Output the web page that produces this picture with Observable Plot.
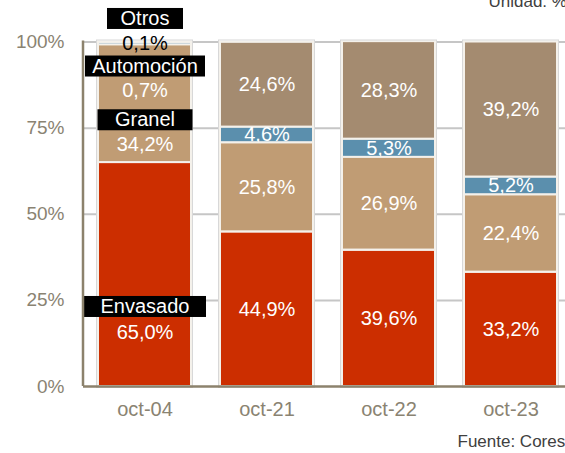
<!DOCTYPE html>
<html>
<head>
<meta charset="utf-8">
<script src="https://cdn.jsdelivr.net/npm/d3@7"></script>
<script src="https://cdn.jsdelivr.net/npm/@observablehq/plot@0.6"></script>
<style>
  html, body { margin: 0; padding: 0; background: #fff; }
  svg { display: block; }
</style>
</head>
<body>
<div id="chart"></div>
<script>
// ---- data ----
const categories = ["oct-04", "oct-21", "oct-22", "oct-23"];
const series = ["Envasado", "Granel", "Automoción", "Otros"];
const envasado   = [65.0, 44.9, 39.6, 33.2];
const granel     = [34.2, 25.8, 26.9, 22.4];
const automocion = [0.7, 4.6, 5.3, 5.2];
const otros      = [0.1, 24.6, 28.3, 39.2];
const yTicks = [0, 25, 50, 75, 100];
const unitText = "Unidad: %";
const sourceText = "Fuente: Cores";

// ---- layout / style ----
const colors = ["#cc2e00", "#c09c74", "#5b8fad", "#a48b70"];
const firstCat = categories[0];
// annotation placement for first bar (y in % units)
const firstBarNotes = [
  {text: "Otros", y: 106.8, boxed: true},
  {text: "0,1%", y: 99.6, dark: true},
  {text: "Automoción", y: 93.0, boxed: true},
  {text: "0,7%", y: 85.9},
  {text: "Granel", y: 77.4, boxed: true},
  {text: "34,2%", y: 70.2},
  {text: "Envasado", y: 23.2, boxed: true},
  {text: "65,0%", y: 15.7}
];
const boxWidths = {"Otros": 76, "Automoción": 120, "Granel": 95, "Envasado": 122};

const valuesBySeries = [envasado, granel, automocion, otros];
const data = categories.flatMap((c, i) =>
  series.map((s, j) => ({cat: c, series: s, value: valuesBySeries[j][i]}))
);
const fmt = v => v.toFixed(1).replace(".", ",") + "%";
const stackOpts = {x: "cat", y: "value", z: "series", order: series};
const axisColor = "#8a8372";
const barStroke = "#f4f1eb";

const leftLine = (index, scales, values, dim) => {
  const l = d3.create("svg:line")
    .attr("x1", dim.marginLeft).attr("x2", dim.marginLeft)
    .attr("y1", scales.y(100) - 1).attr("y2", scales.y(0))
    .attr("stroke", "#8c826c").attr("stroke-width", 2.5);
  return l.node();
};

const chart = Plot.plot({
  width: 565,
  height: 453,
  marginTop: 41.5,
  marginBottom: 67,
  marginLeft: 83,
  marginRight: 0,
  style: {fontFamily: "'Liberation Sans', Arial, sans-serif", background: "#fff"},
  x: {domain: categories, range: [83, 572], paddingInner: 0.238, paddingOuter: 0.123, label: null},
  y: {domain: [0, 100], label: null},
  color: {domain: series, range: colors},
  marks: [
    Plot.ruleY(yTicks.filter(d => d > 0), {stroke: "#c6c6c6", strokeWidth: 2}),
    Plot.barY(data, Plot.stackY({...stackOpts, fill: "series", stroke: barStroke, strokeWidth: 2})),
    Plot.barY(categories, {x: d => d, y: () => 100, fill: "none", stroke: "#d8d8d8", strokeWidth: 1, inset: -1.5}),
    Plot.text(data, Plot.filter(d => d.series === "Automoción" && d.cat !== firstCat,
      Plot.stackY({...stackOpts, text: d => fmt(d.value), fill: "white", fontSize: 20}))),
    Plot.barY(data, Plot.filter(d => d.series === "Granel" && d.cat !== firstCat,
      Plot.stackY({...stackOpts, fill: "series", stroke: barStroke, strokeWidth: 2}))),
    Plot.text(data, Plot.filter(d => d.series !== "Automoción" && d.cat !== firstCat,
      Plot.stackY({...stackOpts, text: d => fmt(d.value), fill: "white", fontSize: 20}))),
    Plot.text(firstBarNotes, {x: () => firstCat, y: "y", text: "text",
      fill: d => d.dark ? "black" : "white", fontSize: 20,
      className: "notes"}),
    Plot.ruleY([0], {stroke: "#8c826c", strokeWidth: 2.5}),
    leftLine,
    Plot.axisY(yTicks, {tickFormat: d => d + "%", tickSize: 0, tickPadding: 19, fontSize: 19, fill: axisColor, label: null}),
    Plot.axisX({tickSize: 0, tickPadding: 15, fontSize: 20, fill: axisColor, label: null}),
    Plot.text([unitText], {frameAnchor: "top-left", dx: 405, dy: -40, fontSize: 17, fill: "#404040", textAnchor: "start", lineAnchor: "middle"}),
    Plot.text([sourceText], {frameAnchor: "bottom-left", dx: 374, dy: 55, fontSize: 17, fill: "#404040", textAnchor: "start", lineAnchor: "middle"})
  ]
});

document.getElementById("chart").appendChild(chart);

// black label boxes behind boxed annotations
const noteGroup = chart.querySelector(".notes");
if (noteGroup) {
  const texts = Array.from(noteGroup.querySelectorAll("text"));
  texts.forEach(t => {
    const label = t.textContent;
    if (!(label in boxWidths)) return;
    const bb = t.getBBox();
    const w = boxWidths[label];
    const h = 21;
    const cx = bb.x + bb.width / 2;
    const cy = bb.y + bb.height / 2 + 0.5;
    const r = document.createElementNS("http://www.w3.org/2000/svg", "rect");
    r.setAttribute("x", cx - w / 2);
    r.setAttribute("y", cy - h / 2);
    r.setAttribute("width", w);
    r.setAttribute("height", h);
    r.setAttribute("fill", "black");
    const tr = t.getAttribute("transform");
    if (tr) r.setAttribute("transform", tr);
    t.parentNode.insertBefore(r, t);
  });
}
</script>
</body>
</html>
